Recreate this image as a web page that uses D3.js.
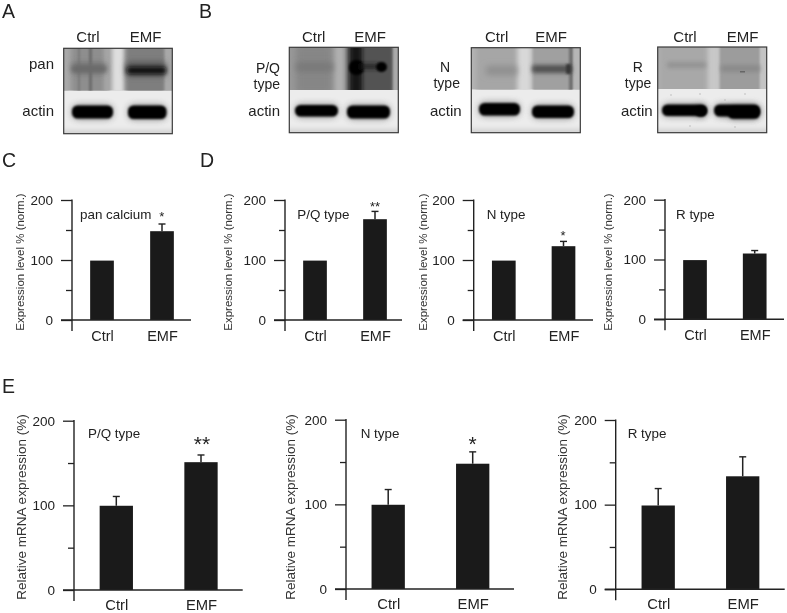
<!DOCTYPE html>
<html>
<head>
<meta charset="utf-8">
<script src="https://cdn.jsdelivr.net/npm/d3@7"></script>
<style>
html, body { margin: 0; padding: 0; background: #fff; }
svg { display: block; font-family: "Liberation Sans", Arial, sans-serif; filter: blur(0.35px); }
</style>
</head>
<body>
<script>
// values
var categories = ['Ctrl', 'EMF'];
var yTicks = [0, 50, 100, 150, 200];

var panValues = [99, 148], panErrors = [0, 12];
var pqValues = [99, 168], pqErrors = [0, 13];
var nValues = [99, 123], nErrors = [0, 8];
var rValues = [99, 110], rErrors = [0, 5];

var pqMrnaValues = [99.5, 151], pqMrnaErrors = [11, 8.5];
var nMrnaValues = [99.5, 148], nMrnaErrors = [18, 14];
var rMrnaValues = [99, 133.5], rMrnaErrors = [20, 23];

var proteinLabel = 'Expression level % (norm.)';
var mrnaLabel = 'Relative mRNA expression (%)';

// band darkness on the blots, 0 = paper, 1 = black
var panBand = [0.58, 0.95], pqBand = [0.52, 1], nBand = [0.42, 0.68], rBand = [0.4, 0.44];
var actinBand = [1, 1];

var ink = '#222';
var width = 787, height = 613;
var darkness = d3.scaleLinear().domain([0, 1]).range(['#f2f2f2', '#050505']);

var svg = d3.select('body').append('svg').attr('width', width).attr('height', height);
var defs = svg.append('defs');
[['soft', 1.1], ['mid', 2], ['wide', 3], ['speck', 0.5]].forEach(function(f){
	defs.append('filter').attr('id', f[0])
		.attr('filterUnits', 'userSpaceOnUse')
		.attr('x', 0).attr('y', 0).attr('width', width).attr('height', height)
		.append('feGaussianBlur').attr('stdDeviation', f[1]);
});

// panel letters
[['A', 2, 18], ['B', 199, 18], ['C', 2, 167], ['D', 200, 167], ['E', 2, 393]].forEach(function(l){
	svg.append('text').text(l[0]).attr('x', l[1]).attr('y', l[2])
		.attr('font-size', 19.5).attr('fill', ink);
});

function blot(b){
	var g = svg.append('g');
	var clipUp = 'up' + b.id, clipLow = 'low' + b.id;
	defs.append('clipPath').attr('id', clipUp).append('rect')
		.attr('x', b.x).attr('y', b.y).attr('width', b.w).attr('height', b.split - b.y);
	defs.append('clipPath').attr('id', clipLow).append('rect')
		.attr('x', b.x).attr('y', b.split).attr('width', b.w).attr('height', b.y + b.h - b.split);

	var up = g.append('g').attr('clip-path', 'url(#' + clipUp + ')');
	up.append('rect').attr('x', b.x).attr('y', b.y).attr('width', b.w).attr('height', b.split - b.y).attr('fill', b.bg);
	up.selectAll('rect.patch').data(b.patches).enter().append('rect')
		.attr('class', 'patch')
		.attr('x', function(d){return d[0]}).attr('y', function(d){return d[1]})
		.attr('width', function(d){return d[2]}).attr('height', function(d){return d[3]})
		.attr('rx', function(d){return d[6] || 0})
		.attr('fill', function(d){return typeof d[4] == 'number' ? darkness(d[4]) : d[4]})
		.attr('filter', function(d){return 'url(#' + d[5] + ')'});

	var low = g.append('g').attr('clip-path', 'url(#' + clipLow + ')');
	low.append('rect').attr('x', b.x).attr('y', b.split).attr('width', b.w).attr('height', b.y + b.h - b.split).attr('fill', '#ececec');
	low.append('rect').attr('x', b.x - 4).attr('y', b.y + b.h - 4).attr('width', b.w + 8).attr('height', 7).attr('fill', '#d4d4d4').attr('filter', 'url(#mid)');
	// grey halo under the band, then the band itself
	low.selectAll('rect.halo').data(b.actin).enter().append('rect')
		.attr('class', 'halo')
		.attr('x', function(d){return d[0]}).attr('y', function(d){return d[1] - 1})
		.attr('width', function(d){return d[2]}).attr('height', function(d){return d[3] + 2})
		.attr('rx', 6)
		.attr('fill', '#555').attr('opacity', 0.6)
		.attr('filter', 'url(#wide)');
	low.selectAll('rect.band').data(b.actin).enter().append('rect')
		.attr('class', 'band')
		.attr('x', function(d){return d[0]}).attr('y', function(d){return d[1]})
		.attr('width', function(d){return d[2]}).attr('height', function(d){return d[3]})
		.attr('rx', 5.5)
		.attr('fill', function(d, i){return darkness(actinBand[i % 2])})
		.attr('filter', 'url(#soft)');
	low.selectAll('circle').data(b.specks || []).enter().append('circle')
		.attr('cx', function(d){return d[0]}).attr('cy', function(d){return d[1]}).attr('r', 0.8)
		.attr('fill', '#bbb').attr('filter', 'url(#speck)');

	g.append('rect').attr('x', b.x).attr('y', b.y).attr('width', b.w).attr('height', b.h)
		.attr('fill', 'none').attr('stroke', '#3a3a3a').attr('stroke-width', 1.2);

	// lane heads and row names
	categories.forEach(function(c, i){
		g.append('text').text(c).attr('x', b.heads[i]).attr('y', 41.5)
			.attr('text-anchor', 'middle').attr('font-size', 15).attr('fill', ink);
	});
	b.rows.forEach(function(r){
		g.append('text').text(r[0]).attr('x', r[1]).attr('y', r[2])
			.attr('text-anchor', r[3]).attr('font-size', r[4] || 15).attr('fill', ink);
	});
}

blot({id: 'a', x: 63.7, y: 48.3, w: 108.6, h: 85.4, split: 90.7, bg: '#a0a0a0',
	heads: [88, 145.7],
	rows: [['pan', 54, 69, 'end'], ['actin', 54, 116, 'end']],
	patches: [
		[60, 44, 10, 50, '#a8a8a8', 'mid'],
		[72, 44, 36, 50, '#8e8e8e', 'mid'],
		[89, 44, 3, 50, '#6a6a6a', 'soft'],
		[78, 44, 2, 50, '#787878', 'soft'],
		[104, 44, 5, 50, '#aaaaaa', 'mid'],
		[112, 44, 12, 50, '#dedede', 'mid'],
		[126, 44, 39, 50, '#7e7e7e', 'mid'],
		[165, 44, 9, 50, '#a8a8a8', 'soft'],
		[72, 63, 34, 10, '#707070', 'wide', 2],
		[126, 62, 40, 14, '#555', 'wide', 4],
		[72, 66, 34, 6, panBand[0], 'mid', 2],
		[127, 67, 39, 7, panBand[1], 'mid', 3]
	],
	actin: [[72, 105.5, 41, 13], [128, 105.5, 38.5, 13.5]]
});

blot({id: 'b', x: 289.3, y: 47.3, w: 109, h: 85.4, split: 90, bg: '#989898',
	heads: [313.7, 370],
	rows: [['P/Q', 280, 73, 'end', 14], ['type', 280, 89, 'end', 14], ['actin', 280, 116, 'end']],
	patches: [
		[296, 44, 36, 50, '#868686', 'wide'],
		[335, 44, 9, 50, '#b0b0b0', 'mid'],
		[347, 44, 47, 50, '#525252', 'mid'],
		[350, 44, 12, 50, '#181818', 'mid'],
		[393, 44, 8, 50, '#aaaaaa', 'soft'],
		[296, 63, 37, 8, pqBand[0], 'wide', 3],
		[349, 60, 15, 15, pqBand[1], 'soft', 7],
		[360, 64, 18, 5, '#222', 'mid'],
		[376, 62, 11, 10, pqBand[1], 'soft', 5]
	],
	actin: [[295, 105, 43, 11.5], [347, 105.5, 43, 13]]
});

blot({id: 'n', x: 471.3, y: 47.7, w: 109, h: 85, split: 89.7, bg: '#b4b4b4',
	heads: [496.7, 551],
	rows: [['N', 445, 72, 'middle', 14], ['type', 446.7, 88, 'middle', 14], ['actin', 461.7, 115.7, 'end']],
	patches: [
		[476, 44, 40, 50, '#a6a6a6', 'mid'],
		[518, 44, 13, 50, '#d8d8d8', 'mid'],
		[533, 44, 38, 50, '#a0a0a0', 'soft'],
		[569, 44, 4, 50, '#6e6e6e', 'soft'],
		[574, 44, 8, 50, '#b6b6b6', 'soft'],
		[486, 66, 31, 9, nBand[0], 'wide', 2],
		[532, 65, 40, 8, nBand[1], 'mid', 2],
		[566, 64, 5, 10, '#383838', 'soft', 2]
	],
	actin: [[479, 103, 41, 12.5], [532, 105.5, 42, 12.5]]
});

blot({id: 'r', x: 657.7, y: 47, w: 109, h: 85.7, split: 89, bg: '#aeaeae',
	heads: [685, 742.7],
	rows: [['R', 637.7, 72, 'middle', 14], ['type', 638, 88, 'middle', 14], ['actin', 652.7, 115.7, 'end']],
	patches: [
		[660, 44, 46, 50, '#a8a8a8', 'mid'],
		[708, 44, 12, 50, '#c8c8c8', 'mid'],
		[720, 44, 40, 50, '#9c9c9c', 'soft'],
		[760, 44, 10, 50, '#c4c4c4', 'soft'],
		[667, 62, 39, 6, rBand[0], 'mid', 2],
		[721, 65, 39, 7, rBand[1], 'mid', 2],
		[740, 71, 5, 1.5, '#666', 'speck']
	],
	actin: [[662, 104.5, 45, 11.5], [714, 104.5, 46, 12], [695, 106, 12, 10.5], [728, 107, 32, 11.8]],
	specks: [[671, 95], [700, 94], [725, 100], [690, 126], [735, 127], [745, 94]]
});

function barChart(c){
	var y = d3.scaleLinear().domain([0, 200]).range([c.y0, c.y200]);
	var x = d3.scalePoint().domain(categories).range(c.centers);
	var g = svg.append('g');

	// y axis with long ticks on the hundreds
	var yAxis = d3.axisLeft(y).tickValues(yTicks).tickSizeOuter(0).tickPadding(8)
		.tickFormat(function(d){return d % 100 == 0 ? d : ''});
	var ya = g.append('g').attr('transform', 'translate(' + c.axisX + ',0)').call(yAxis);
	ya.select('.domain').remove();
	ya.selectAll('.tick line')
		.attr('x2', function(d){return d % 100 == 0 ? -11 : -6})
		.attr('stroke', ink).attr('stroke-width', 1.3);
	ya.selectAll('.tick text')
		.attr('x', -19)
		.attr('font-size', 13.5).attr('font-family', '"Liberation Sans", Arial, sans-serif').attr('fill', ink);

	g.append('line')
		.attr('x1', c.axisX).attr('x2', c.axisX).attr('y1', y(200) - 0.6).attr('y2', c.y0 + 11)
		.attr('stroke', ink).attr('stroke-width', 1.4);

	// bars
	g.selectAll('rect.bar').data(c.values).enter().append('rect')
		.attr('class', 'bar')
		.attr('x', function(d, i){return x(categories[i]) - c.barW / 2})
		.attr('y', function(d){return y(d)})
		.attr('width', c.barW)
		.attr('height', function(d){return y(0) - y(d)})
		.attr('fill', '#1a1a1a');

	// error bars, only the upper half shows
	c.errors.forEach(function(e, i){
		if(e == 0) return;
		var cx = x(categories[i]);
		g.append('line').attr('x1', cx).attr('x2', cx)
			.attr('y1', y(c.values[i])).attr('y2', y(c.values[i] + e))
			.attr('stroke', ink).attr('stroke-width', 1.5);
		g.append('line').attr('x1', cx - 3.5).attr('x2', cx + 3.5)
			.attr('y1', y(c.values[i] + e)).attr('y2', y(c.values[i] + e))
			.attr('stroke', ink).attr('stroke-width', 1.4);
	});

	// baseline and category names
	var xAxis = d3.axisBottom(x).tickSize(0).tickPadding(c.xPad);
	var xa = g.append('g').attr('transform', 'translate(0,' + c.y0 + ')').call(xAxis);
	xa.select('.domain').remove();
	xa.selectAll('text').attr('font-size', c.xFont)
		.attr('font-family', '"Liberation Sans", Arial, sans-serif').attr('fill', ink);
	g.append('line')
		.attr('x1', c.axisX - 11).attr('x2', c.xEnd).attr('y1', c.y0).attr('y2', c.y0)
		.attr('stroke', ink).attr('stroke-width', 1.4);

	// y title
	g.append('text').text(c.yTitle)
		.attr('transform', 'translate(' + c.titleX + ',' + c.titleY + ') rotate(-90)')
		.attr('text-anchor', 'middle').attr('font-size', c.titleFont).attr('fill', '#333');

	// panel name
	g.append('text').text(c.name).attr('x', c.nameX).attr('y', c.nameY)
		.attr('font-size', 13.4).attr('fill', ink);

	// significance stars
	if(c.star){
		g.append('text').text(c.star[0]).attr('x', c.star[1]).attr('y', c.star[2])
			.attr('text-anchor', 'middle').attr('font-size', c.star[3]).attr('fill', ink);
	}
}

var proteinCommon = {y200: 200, y0: 320, barW: 23.7, xPad: 10.4, xFont: 14.5, yTitle: proteinLabel, titleY: 262, titleFont: 11.5, nameY: 219};
var mrnaCommon = {barW: 33.3, xPad: 9.4, xFont: 14.8, yTitle: mrnaLabel, titleY: 507, titleFont: 13.5, nameY: 438};

barChart(Object.assign({}, proteinCommon, {name: 'pan calcium', values: panValues, errors: panErrors,
	axisX: 72, centers: [102, 162], xEnd: 191, titleX: 24, nameX: 80, star: ['*', 161.7, 221, 13]}));
barChart(Object.assign({}, proteinCommon, {name: 'P/Q type', values: pqValues, errors: pqErrors,
	axisX: 285, centers: [315, 375], xEnd: 402, titleX: 231.5, nameX: 297.3, star: ['**', 375, 211, 13]}));
barChart(Object.assign({}, proteinCommon, {name: 'N type', values: nValues, errors: nErrors,
	axisX: 473.7, centers: [503.8, 563.5], xEnd: 593, titleX: 426.5, nameX: 486.7, star: ['*', 563, 240, 13]}));
barChart(Object.assign({}, proteinCommon, {name: 'R type', values: rValues, errors: rErrors,
	axisX: 665, y200: 199.7, y0: 319.3, centers: [695, 754.7], xEnd: 784, titleX: 612, nameX: 676}));

barChart(Object.assign({}, mrnaCommon, {name: 'P/Q type', values: pqMrnaValues, errors: pqMrnaErrors,
	axisX: 74, y200: 420.7, y0: 590, centers: [116.3, 201], xEnd: 242.7, titleX: 25.5, nameX: 88, star: ['**', 202, 451, 21]}));
barChart(Object.assign({}, mrnaCommon, {name: 'N type', values: nMrnaValues, errors: nMrnaErrors,
	axisX: 346, y200: 419.7, y0: 589, centers: [388.2, 472.7], xEnd: 514, titleX: 295, nameX: 360.7, star: ['*', 472.7, 451, 21]}));
barChart(Object.assign({}, mrnaCommon, {name: 'R type', values: rMrnaValues, errors: rMrnaErrors,
	axisX: 615.7, y200: 420, y0: 589.3, centers: [658.2, 742.7], xEnd: 784.7, titleX: 566.5, nameX: 627.7}));
</script>
</body>
</html>
